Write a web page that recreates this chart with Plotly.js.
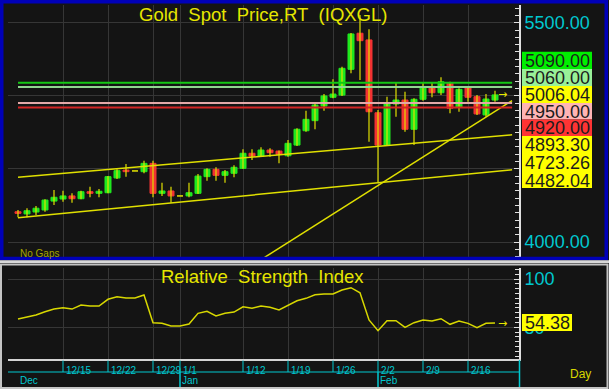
<!DOCTYPE html>
<html><head><meta charset="utf-8">
<script src="https://cdn.plot.ly/plotly-3.0.1.min.js"></script>
<style>html,body{margin:0;padding:0;background:#141414;}#chart{width:609px;height:389px;}</style>
</head><body><div id="chart"></div>
<script>
// ---- data ----
const openP  = [4207,4192,4205,4219,4280,4294,4315,4296,4344,4333,4337,4438,4492,4486,4481,4538,4333,4349,4315,4315,4333,4447,4497,4456,4470,4504,4607,4588,4629,4622,4590,4663,4761,4830,4930,4990,5005,5181,5428,5382,4884,4663,4944,4971,4771,4976,5055,5021,5090,4921,5055,4994,4869,4971];
const highP  = [4219,4231,4246,4292,4356,4351,4333,4351,4378,4363,4451,4497,4534,4486,4556,4556,4406,4378,4315,4406,4465,4504,4511,4492,4525,4634,4634,4648,4641,4626,4698,4778,4898,4949,5012,5113,5199,5430,5553,5455,4903,4994,5090,5028,4983,5090,5090,5127,5096,5051,5060,5005,5012,5035];
const lowP   = [4169,4169,4185,4207,4253,4276,4269,4292,4306,4306,4333,4431,4447,4486,4470,4306,4315,4269,4315,4306,4328,4419,4419,4406,4443,4501,4561,4583,4583,4538,4583,4657,4754,4771,4898,4983,4999,5154,5108,4686,4410,4657,4857,4754,4663,4966,4990,5005,4880,4891,4960,4869,4857,4960];
const closeP = [4196,4214,4231,4287,4306,4315,4296,4344,4333,4347,4447,4488,4481,4486,4538,4333,4349,4315,4315,4337,4451,4497,4456,4481,4511,4607,4588,4629,4611,4600,4675,4771,4839,4937,4999,5012,5188,5423,5377,4891,4663,4949,4971,4771,4976,5055,5021,5096,4915,5044,4990,4876,4978,5006.04];
const rsiValues = [58.6,61.0,62.7,66.1,68.9,70.3,68.9,73.1,72.0,72.0,79.0,81.7,80.3,80.3,83.4,54.8,54.1,51.3,51.3,53.4,64.5,66.6,61.7,64.5,65.8,71.3,69.7,72.0,70.7,67.9,73.1,77.5,80.0,83.7,84.5,84.5,88.6,91.0,85.8,57.6,46.5,56.8,56.8,50.0,54.8,57.6,56.5,58.9,53.1,56.5,54.1,49.6,54.1,54.38];
const weekTickIdx  = [5,10,15,18,25,30,35,40,45,50];
const weekTickText = ['12/15','12/22','12/29','1/1','1/12','1/19','1/26','2/2','2/9','2/16'];
const monthIdx  = [0,18,40];
const monthText = ['Dec','Jan','Feb'];
const monthLineIdx = [18,40];
const levelValues = [5090,5060,4950,4920];
const levelColors = ['#14c814','#90d890','#e4a8a8','#d42424'];
const levelX = [0,54.9];
const upperChannelX = [0,54.9], upperChannelY = [4443,4733];
const lowerChannelX = [0,54.9], lowerChannelY = [4166,4494];
const trendX = [27.4,54.9], trendY = [3895,4967];
const lastPrice = 5006.04, lastRsi = 54.38;
const priceAxisVals = [4000,4500,5000,5500];
const priceAxisText = ['4000.00','','','5500.00'];
const rsiAxisVals = [50,100];
const rsiAxisText = ['50','100'];
const sideLabels = [
  {text:'5090.00', bg:'#00f000', top:51.7, bot:69},
  {text:'5060.00', bg:'#98f098', top:69, bot:86},
  {text:'5006.04', bg:'#ffff00', top:86, bot:103},
  {text:'4950.00', bg:'#ffb4b4', top:103, bot:119.5},
  {text:'4920.00', bg:'#ff3434', top:119.5, bot:136}
];
const channelLabels = ['4893.30','4723.26','4482.04'];

// ---- helpers ----
const W = 609, H = 389;
const px = x => x / W;
const py = y => 1 - y / H;
const FONT = 'Liberation Sans, Arial, sans-serif';
const idx = openP.map((_, i) => i);

// wicks
const wx = [], wy = [];
idx.forEach(i => { wx.push(i, i, null); wy.push(lowP[i], highP[i], null); });
const bodyBase = idx.map(i => Math.min(openP[i], closeP[i]));
const bodyH = idx.map(i => Math.abs(closeP[i] - openP[i]));
const bodyCol = idx.map(i => closeP[i] > openP[i] ? '#1ee81e' : (closeP[i] < openP[i] ? '#f23232' : '#e6e600'));

const traces = [
  {type:'scatter', mode:'lines', x:wx, y:wy, xaxis:'x', yaxis:'y', line:{color:'#e0e000', width:1.2}, hoverinfo:'skip'},
  {type:'bar', x:idx, y:bodyH, base:bodyBase, width:0.667, xaxis:'x', yaxis:'y',
   marker:{color:bodyCol, line:{color:bodyCol, width:1}}, hoverinfo:'skip'},
  {type:'scatter', mode:'lines', x:upperChannelX, y:upperChannelY, line:{color:'#e0e000', width:1.5}, hoverinfo:'skip'},
  {type:'scatter', mode:'lines', x:lowerChannelX, y:lowerChannelY, line:{color:'#e0e000', width:1.5}, hoverinfo:'skip'},
  {type:'scatter', mode:'lines', x:trendX, y:trendY, line:{color:'#e0e000', width:1.5}, hoverinfo:'skip'}
];
levelValues.forEach((v, k) => traces.push({type:'scatter', mode:'lines', x:levelX, y:[v, v],
  line:{color:levelColors[k], width:2}, hoverinfo:'skip'}));
traces.push({type:'scatter', mode:'lines', x:idx, y:rsiValues, xaxis:'x2', yaxis:'y2',
  line:{color:'#d8d800', width:1.5}, hoverinfo:'skip'});

const xRange = [-1.111, 55.667];
const grid = '#363636';
const axWhite = '#e0e0e0';
const cyan = '#00c8d0';

const shapes = [];
const annotations = [];
// label boxes
sideLabels.forEach(s => {
  shapes.push({type:'rect', xref:'paper', yref:'paper', x0:px(522), x1:px(592), y0:py(s.bot), y1:py(s.top),
    fillcolor:s.bg, line:{width:0}, layer:'above'});
  annotations.push({xref:'paper', yref:'paper', x:px(557), y:py((s.top + s.bot) / 2), text:s.text, showarrow:false,
    height:15, borderpad:0, xanchor:'center', yanchor:'middle', font:{family:FONT, size:18, color:'#1c1c1c'}});
});
shapes.push({type:'rect', xref:'paper', yref:'paper', x0:px(522), x1:px(592), y0:py(188), y1:py(136),
  fillcolor:'#ffff00', line:{width:0}, layer:'above'});
[144.4, 162.2, 180].forEach((yy, k) => annotations.push({xref:'paper', yref:'paper', x:px(557), y:py(yy),
  text:channelLabels[k], showarrow:false, height:15, borderpad:0, xanchor:'center', yanchor:'middle',
  font:{family:FONT, size:18, color:'#1c1c1c'}}));
// RSI value box
shapes.push({type:'rect', xref:'paper', yref:'paper', x0:px(522), x1:px(572), y0:py(331), y1:py(314),
  fillcolor:'#ffff00', line:{width:0}, layer:'above'});
annotations.push({xref:'paper', yref:'paper', x:px(547), y:py(322.6), text:'54.38', showarrow:false,
  height:15, borderpad:0, xanchor:'center', yanchor:'middle', font:{family:FONT, size:18, color:'#1c1c1c'}});
// arrows
annotations.push({xref:'x', yref:'y', x:54.6, y:lastPrice, text:'→', showarrow:false, xanchor:'right', yanchor:'middle',
  font:{family:'DejaVu Sans', size:11, color:'#e6e600'}});
annotations.push({xref:'x2', yref:'y2', x:54.6, y:lastRsi, text:'→', showarrow:false, xanchor:'right', yanchor:'middle',
  font:{family:'DejaVu Sans', size:11, color:'#e6e600'}});
// titles and texts
annotations.push({xref:'paper', yref:'paper', x:px(263.3), y:py(14.3), text:'Gold\u00a0 Spot\u00a0 Price,RT\u00a0 (IQXGL)',
  showarrow:false, xanchor:'center', yanchor:'middle', font:{family:FONT, size:18.5, color:'#e6e600'}});
annotations.push({xref:'paper', yref:'paper', x:px(262), y:py(276.5), text:'Relative\u00a0 Strength\u00a0 Index',
  showarrow:false, xanchor:'center', yanchor:'middle', font:{family:FONT, size:18.5, color:'#e6e600'}});
annotations.push({xref:'paper', yref:'paper', x:px(18), y:py(253), text:'No Gaps', showarrow:false,
  xanchor:'left', yanchor:'middle', font:{family:FONT, size:10, color:'#a4a400'}});
annotations.push({xref:'paper', yref:'paper', x:px(568), y:py(374), text:'Day', showarrow:false,
  xanchor:'left', yanchor:'middle', font:{family:FONT, size:12, color:'#d8d800'}});
monthIdx.forEach((m, k) => annotations.push({xref:'x2', yref:'paper', x:m, y:py(380), text:monthText[k], showarrow:false,
  xanchor:'left', yanchor:'middle', font:{family:FONT, size:10, color:cyan}}));
// date scale: week tick lines, month separators, divider line
weekTickIdx.forEach(t => shapes.push({type:'line', xref:'x2', yref:'paper', x0:t, x1:t, y0:py(372), y1:py(360.5),
  line:{color:cyan, width:1}, layer:'above'}));
monthLineIdx.forEach(t => shapes.push({type:'line', xref:'x2', yref:'paper', x0:t, x1:t, y0:py(388), y1:py(372),
  line:{color:cyan, width:1.5}, layer:'above'}));
shapes.push({type:'line', xref:'paper', yref:'paper', x0:px(8), x1:px(519.5), y0:py(372), y1:py(372),
  line:{color:cyan, width:1}, layer:'above'});
// frames
shapes.push({type:'rect', xref:'paper', yref:'paper', x0:px(1.75), x1:px(606.25), y0:py(258.5), y1:py(1.75),
  line:{color:'#0000b8', width:3.5}, layer:'above'});
shapes.push({type:'rect', xref:'paper', yref:'paper', x0:0, x1:1, y0:py(263), y1:py(260.3),
  fillcolor:'#d8d8d8', line:{width:0}, layer:'above'});
shapes.push({type:'rect', xref:'paper', yref:'paper', x0:px(1), x1:px(607.5), y0:py(388), y1:py(264.5),
  line:{color:'#c4c4c4', width:2}, layer:'above'});
shapes.push({type:'line', xref:'paper', yref:'paper', x0:px(519.5), x1:px(519.5), y0:py(387), y1:py(360),
  line:{color:cyan, width:1.5}, layer:'above'});

const layout = {
  width:W, height:H, margin:{l:0, r:0, t:0, b:0, pad:0},
  paper_bgcolor:'#141414', plot_bgcolor:'#141414', showlegend:false, bargap:0,
  font:{family:FONT},
  xaxis:{domain:[px(8), px(519)], range:xRange, anchor:'y', tickmode:'array', tickvals:weekTickIdx,
    showticklabels:false, ticks:'', showgrid:true, gridcolor:grid, zeroline:false, showline:false, fixedrange:true},
  yaxis:{domain:[py(258), py(5)], range:[3890.6, 5621.07], side:'right', anchor:'x', tickmode:'array',
    tickvals:priceAxisVals, ticktext:priceAxisText, tickfont:{family:FONT, size:18, color:cyan},
    ticks:'inside', ticklen:5, tickcolor:axWhite,
    minor:{tickmode:'linear', tick0:0, dtick:50, ticks:'inside', ticklen:4, tickcolor:axWhite, showgrid:false},
    showline:true, linecolor:axWhite, linewidth:2, showgrid:true, gridcolor:grid, zeroline:false, fixedrange:true},
  yaxis3:{overlaying:'y', anchor:'free', position:px(7.5), side:'left', range:[3890.6, 5621.07],
    tickmode:'linear', tick0:0, dtick:50, ticks:'inside', ticklen:5, tickcolor:axWhite, showticklabels:false,
    showline:true, linecolor:axWhite, linewidth:1.5, showgrid:false, zeroline:false, fixedrange:true},
  xaxis2:{domain:[px(8), px(519)], range:xRange, anchor:'y2', tickmode:'array', tickvals:weekTickIdx,
    ticktext:weekTickText, ticks:'', tickangle:0, ticklabelposition:'outside right', ticklabelshift:2, ticklabelstandoff:1,
    tickfont:{family:FONT, size:10, color:cyan}, showline:true, linecolor:'#d4d4d4', linewidth:2,
    showgrid:true, gridcolor:grid, zeroline:false, fixedrange:true},
  yaxis2:{domain:[py(359), py(268)], range:[17.2, 111.4], side:'right', anchor:'x2', tickmode:'array',
    tickvals:rsiAxisVals, ticktext:rsiAxisText, tickfont:{family:FONT, size:18, color:cyan},
    ticks:'inside', ticklen:5, tickcolor:axWhite,
    minor:{tickmode:'linear', tick0:0, dtick:5, ticks:'inside', ticklen:4, tickcolor:axWhite, showgrid:false},
    showline:true, linecolor:axWhite, linewidth:2, showgrid:true, gridcolor:grid, zeroline:false, fixedrange:true},
  yaxis4:{overlaying:'y2', anchor:'free', position:px(7.5), side:'left', range:[17.2, 111.4],
    tickmode:'linear', tick0:0, dtick:5, ticks:'inside', ticklen:5, tickcolor:axWhite, showticklabels:false,
    showline:true, linecolor:axWhite, linewidth:1.5, showgrid:false, zeroline:false, fixedrange:true},
  shapes:shapes, annotations:annotations
};
Plotly.newPlot('chart', traces, layout, {staticPlot:true, displayModeBar:false});
</script></body></html>
